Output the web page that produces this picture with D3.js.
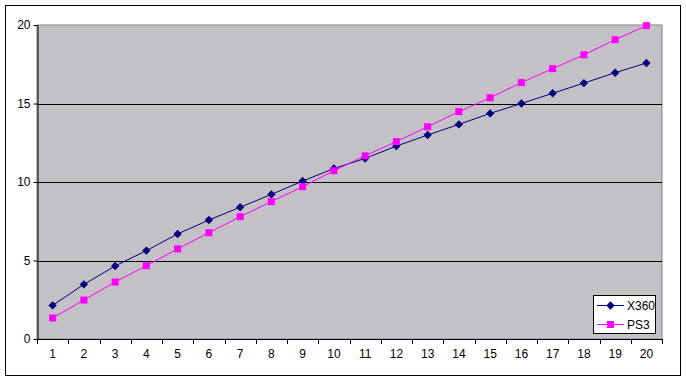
<!DOCTYPE html>
<html><head><meta charset="utf-8">
<script src="https://cdn.jsdelivr.net/npm/d3@7"></script>
<style>body{margin:0;background:#fff}svg{display:block}text{font-family:"Liberation Sans",Arial,sans-serif;font-size:12px;fill:#000}</style>
</head><body>
<script>
const categories = ["1","2","3","4","5","6","7","8","9","10","11","12","13","14","15","16","17","18","19","20"];
const x360 = [2.14,3.48,4.65,5.63,6.69,7.58,8.39,9.21,10.06,10.86,11.5,12.29,12.99,13.67,14.37,15.0,15.65,16.3,16.96,17.58];
const ps3  = [1.34,2.48,3.63,4.67,5.74,6.77,7.79,8.75,9.70,10.72,11.67,12.57,13.52,14.48,15.37,16.33,17.22,18.1,19.06,19.96];
const yTicks = [0,5,10,15,20];
const seriesNames = ["X360","PS3"];

const W=686,H=381;
const svg=d3.select("body").append("svg").attr("width",W).attr("height",H);
svg.append("rect").attr("x",5.5).attr("y",5.5).attr("width",675).attr("height",370).attr("fill","#fff").attr("stroke","#000").attr("stroke-width",1);

const L=37,R=662,T=25,B=339;
const x=d3.scaleBand().domain(categories).range([L,R]);
const y=d3.scaleLinear().domain([0,20]).range([B,T]);

svg.append("rect").attr("x",L).attr("y",T).attr("width",R-L).attr("height",B-T).attr("fill","#C3C1C5").attr("stroke","#808080");

// gridlines
svg.append("g").selectAll("line").data(yTicks.filter(d=>d>0&&d<20)).join("line")
 .attr("x1",L).attr("x2",R).attr("y1",d=>Math.round(y(d))+0.5).attr("y2",d=>Math.round(y(d))+0.5).attr("stroke","#000");

const yAxis=svg.append("g").attr("transform",`translate(${L+0.5},0)`).call(d3.axisLeft(y).tickValues(yTicks).tickSize(4).tickPadding(3).tickSizeOuter(0));
yAxis.select(".domain").attr("stroke","#000");
yAxis.selectAll("text").style("font-size","12px");

const xAxis=svg.append("g").attr("transform",`translate(0,${B+0.5})`).call(d3.axisBottom(x).tickSize(0).tickPadding(10));
xAxis.select(".domain").attr("stroke","#000").attr("d",`M${L},0H${R}`);
xAxis.selectAll("text").style("font-size","12px");
svg.append("g").selectAll("line").data(d3.range(categories.length+1)).join("line")
 .attr("x1",i=>Math.round(L+i*x.step())+0.5).attr("x2",i=>Math.round(L+i*x.step())+0.5)
 .attr("y1",B).attr("y2",B+5).attr("stroke","#000");

const cx=c=>x(c)+x.bandwidth()/2;
const line=d3.line().x((d,i)=>cx(categories[i])).y(d=>y(d));
svg.append("path").datum(x360).attr("d",line).attr("fill","none").attr("stroke","#000080").attr("stroke-width",1);
svg.append("path").datum(ps3).attr("d",line).attr("fill","none").attr("stroke","#FF00FF").attr("stroke-width",1);

const diamond="M0,-4.2L4.2,0L0,4.2L-4.2,0Z";
svg.append("g").selectAll("path").data(x360).join("path")
 .attr("transform",(d,i)=>`translate(${cx(categories[i])},${y(d)})`).attr("d",diamond).attr("fill","#000080");
svg.append("g").selectAll("rect").data(ps3).join("rect")
 .attr("x",(d,i)=>cx(categories[i])-3.5).attr("y",d=>y(d)-3.5).attr("width",7).attr("height",7).attr("fill","#FF00FF");

// legend
const lg=svg.append("g");
lg.append("rect").attr("x",593.5).attr("y",295.5).attr("width",62).attr("height",38).attr("fill","#fff").attr("stroke","#000");
const colors=["#000080","#FF00FF"];
seriesNames.forEach((n,i)=>{
  const yy=305+i*19;
  lg.append("line").attr("x1",597).attr("x2",624).attr("y1",yy+0.5).attr("y2",yy+0.5).attr("stroke",colors[i]);
  if(i===0) lg.append("path").attr("transform",`translate(610.5,${yy+0.5})`).attr("d",diamond).attr("fill",colors[i]);
  else lg.append("rect").attr("x",607).attr("y",yy-3).attr("width",7).attr("height",7).attr("fill",colors[i]);
  lg.append("text").attr("x",627).attr("y",yy+4.5).text(n);
});
</script>
</body></html>
